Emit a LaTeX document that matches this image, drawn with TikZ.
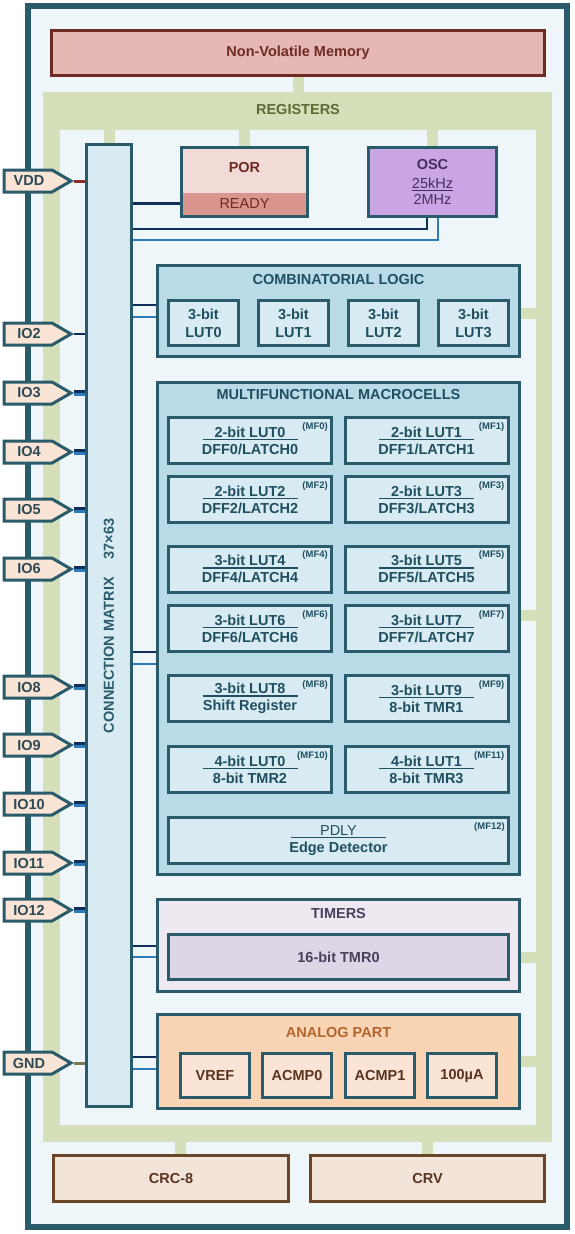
\documentclass[tikz,border=0pt]{standalone}
\usepackage{fontspec}
\setmainfont{Liberation Sans}
\usepackage{xcolor}
\usepackage{tikz}
\usetikzlibrary{positioning,shapes.symbols,calc}

\definecolor{edge}{HTML}{2A5B6A}
\definecolor{bgc}{HTML}{EFF6F9}
\definecolor{regc}{HTML}{D5DFB9}
\definecolor{regtxt}{HTML}{5B6B33}
\definecolor{nvmfill}{HTML}{E6B8B3}
\definecolor{nvmedge}{HTML}{6E2B23}
\definecolor{porfill}{HTML}{F2DBD7}
\definecolor{readyfill}{HTML}{D9958E}
\definecolor{oscfill}{HTML}{C9A6E3}
\definecolor{osctxt}{HTML}{4A2C60}
\definecolor{cmfill}{HTML}{D8EAF2}
\definecolor{cmtxt}{HTML}{2B5C6D}
\definecolor{blufill}{HTML}{B9DBE7}
\definecolor{cellc}{HTML}{D8EBF2}
\definecolor{tealtxt}{HTML}{1F4F60}
\definecolor{tmrfill}{HTML}{EEE9F1}
\definecolor{tmrcell}{HTML}{DCD6E6}
\definecolor{tmrtxt}{HTML}{4C3F5C}
\definecolor{anafill}{HTML}{F9D5B6}
\definecolor{anacell}{HTML}{F9E4D5}
\definecolor{anattl}{HTML}{B4652C}
\definecolor{brtxt}{HTML}{5B3420}
\definecolor{crcfill}{HTML}{F3E4D9}
\definecolor{crcedge}{HTML}{6B4527}
\definecolor{pinc}{HTML}{F9E4D5}
\definecolor{pintc}{HTML}{2D4955}
\definecolor{busdark}{HTML}{0F2E5A}
\definecolor{buslight}{HTML}{2B7CB9}
\definecolor{vddc}{HTML}{8B2D24}
\definecolor{gndc}{HTML}{7B7A55}

% underlined first line of a macrocell
\newcommand{\ulhead}[1]{\vtop{\hbox to 95pt{\hss#1\hss}\kern1.5pt\hrule height 1.3pt}}

\begin{document}
\begin{tikzpicture}[
  x=1pt, y=-1pt,
  big/.style={font=\bfseries\fontsize{14.5}{17}\selectfont},
  chip/.style={draw=edge, fill=bgc, line width=6pt, inner sep=0pt},
  blk/.style={big, draw=edge, line width=3pt, inner sep=0pt, align=center},
  cell/.style={blk, fill=cellc, text=tealtxt, minimum width=163pt, minimum height=46pt, label={[mftag]north east:#1}},
  lut/.style={blk, fill=cellc, text=tealtxt, minimum width=70pt, minimum height=45pt, font=\bfseries\fontsize{14.5}{18}\selectfont},
  ana/.style={blk, fill=anacell, text=brtxt, minimum width=69pt, minimum height=44pt},
  ttl/.style={big, inner sep=0pt},
  mftag/.style={font=\bfseries\fontsize{9.5}{11}\selectfont, text=tealtxt, inner sep=0pt, anchor=north east, xshift=-5pt, yshift=-6pt},
  iopin/.style={signal, signal to=east, signal pointer angle=60, draw=edge, line width=3pt, fill=pinc, minimum width=67pt, minimum height=22pt, anchor=east, inner sep=0pt, label={[pintxt]center:#1}},
  pintxt/.style={big, text=pintc, xshift=1pt},
  busdk/.style={draw=busdark, line width=2.8pt},
  buslt/.style={draw=buslight, line width=2.8pt},
  regln/.style={draw=regc, line width=11pt}
]
\useasboundingbox (0,0) rectangle (574,1234);

% chip outline and register ring
\node[chip, minimum width=539pt, minimum height=1221pt] (chip) at (297,616.5) {};
\node[fill=regc, inner sep=0pt, minimum width=509pt, minimum height=1050pt] (regs) at (297.5,617) {};
\node[fill=bgc, inner sep=0pt, minimum width=476pt, minimum height=995pt] (regsin) at (298,627.5) {};
\node[ttl, text=regtxt] (regttl) at (298,110) {REGISTERS};

\node[blk, fill=nvmfill, draw=nvmedge, text=nvmedge, minimum width=493pt, minimum height=45pt] (nvm) at (298,53) {Non-Volatile Memory};

% connection matrix
\node[blk, fill=cmfill, minimum width=45pt, minimum height=962pt] (cm) at (109,625.5) {};
\node[big, text=cmtxt, rotate=90, inner sep=0pt] (cmname) at (109,655) {CONNECTION MATRIX};
\node[big, text=cmtxt, rotate=90, inner sep=0pt] (cmsize) at (109,539) {37×63};

% POR and OSC
\node[blk, fill=porfill, minimum width=126pt, minimum height=69pt] (por) at (244.5,182) {};
\node[fill=readyfill, text=nvmedge, font=\fontsize{14.5}{17}\selectfont, inner sep=0pt, minimum width=123pt, minimum height=22pt, anchor=south] (ready) at ([yshift=3pt]por.south) {READY};
\node[ttl, text=nvmedge] (portxt) at ([yshift=-22pt]por.north) {POR};
\node[blk, fill=oscfill, text=osctxt, font=\fontsize{14.5}{16}\selectfont, minimum width=128pt, minimum height=69pt] (osc) at (432.5,182) {\textbf{OSC}\\[3pt]\underline{25kHz}\\2MHz};

% combinatorial logic
\node[blk, fill=blufill, minimum width=362pt, minimum height=91pt] (comb) at (338.5,311) {};
\node[ttl, text=tealtxt] (combttl) at ([yshift=-16pt]comb.north) {COMBINATORIAL LOGIC};
\node[lut] (lut0) at (203.5,323) {3-bit\\LUT0};
\node[lut] (lut1) at (293.5,323) {3-bit\\LUT1};
\node[lut] (lut2) at (383.5,323) {3-bit\\LUT2};
\node[lut] (lut3) at (473.5,323) {3-bit\\LUT3};

% multifunctional macrocells
\node[blk, fill=blufill, minimum width=362pt, minimum height=492pt] (mf) at (338.5,628.5) {};
\node[ttl, text=tealtxt] (mfttl) at ([yshift=-14pt]mf.north) {MULTIFUNCTIONAL MACROCELLS};
\node[cell=(MF0)] (mf0) at (250,440.5) {\ulhead{2-bit LUT0}\\DFF0/LATCH0};
\node[cell=(MF1)] (mf1) at (426.5,440.5) {\ulhead{2-bit LUT1}\\DFF1/LATCH1};
\node[cell=(MF2)] (mf2) at (250,499.5) {\ulhead{2-bit LUT2}\\DFF2/LATCH2};
\node[cell=(MF3)] (mf3) at (426.5,499.5) {\ulhead{2-bit LUT3}\\DFF3/LATCH3};
\node[cell=(MF4)] (mf4) at (250,569) {\ulhead{3-bit LUT4}\\DFF4/LATCH4};
\node[cell=(MF5)] (mf5) at (426.5,569) {\ulhead{3-bit LUT5}\\DFF5/LATCH5};
\node[cell=(MF6)] (mf6) at (250,628.5) {\ulhead{3-bit LUT6}\\DFF6/LATCH6};
\node[cell=(MF7)] (mf7) at (426.5,628.5) {\ulhead{3-bit LUT7}\\DFF7/LATCH7};
\node[cell=(MF8)] (mf8) at (250,698.5) {\ulhead{3-bit LUT8}\\Shift Register};
\node[cell=(MF9)] (mf9) at (426.5,698.5) {\ulhead{3-bit LUT9}\\8-bit TMR1};
\node[cell=(MF10)] (mf10) at (250,769.5) {\ulhead{4-bit LUT0}\\8-bit TMR2};
\node[cell=(MF11)] (mf11) at (426.5,769.5) {\ulhead{4-bit LUT1}\\8-bit TMR3};
\node[cell=(MF12), minimum width=340pt] (mf12) at (338.5,840.5) {\ulhead{\mdseries PDLY}\\Edge Detector};

% timers
\node[blk, fill=tmrfill, minimum width=362pt, minimum height=92pt] (timers) at (338.5,945.5) {};
\node[ttl, text=tmrtxt] (tmrttl) at ([yshift=-15pt]timers.north) {TIMERS};
\node[blk, fill=tmrcell, text=tmrtxt, minimum width=340pt, minimum height=45pt] (tmr0) at (338.5,957) {16-bit TMR0};

% analog part
\node[blk, fill=anafill, minimum width=362pt, minimum height=94pt] (analog) at (338.5,1061.5) {};
\node[ttl, text=anattl] (anattl) at ([yshift=-19pt]analog.north) {ANALOG PART};
\node[ana] (vref) at (215,1075.5) {VREF};
\node[ana] (acmp0) at (297,1075.5) {ACMP0};
\node[ana] (acmp1) at (380,1075.5) {ACMP1};
\node[ana] (iref) at (462,1075.5) {100µA};

% crc / crv
\node[blk, fill=crcfill, draw=crcedge, text=brtxt, minimum width=235pt, minimum height=46pt] (crc) at (171,1178.5) {CRC-8};
\node[blk, fill=crcfill, draw=crcedge, text=brtxt, minimum width=234pt, minimum height=46pt] (crv) at (427.5,1178.5) {CRV};

% pins
\node[iopin=VDD] (vdd) at (74,181) {};
\node[iopin=IO2] (io2) at (74,334) {};
\node[iopin=IO3] (io3) at (74,393) {};
\node[iopin=IO4] (io4) at (74,452) {};
\node[iopin=IO5] (io5) at (74,510) {};
\node[iopin=IO6] (io6) at (74,569) {};
\node[iopin=IO8] (io8) at (74,687) {};
\node[iopin=IO9] (io9) at (74,745) {};
\node[iopin=IO10] (io10) at (74,804) {};
\node[iopin=IO11] (io11) at (74,863) {};
\node[iopin=IO12] (io12) at (74,910) {};
\node[iopin=GND] (gnd) at (74,1063) {};

% register taps
\draw[regln] (nvm.south) -- (nvm.south |- regs.north);
\draw[regln] (cm.north) -- (cm.north |- regsin.north);
\draw[regln] (por.north) -- (por.north |- regsin.north);
\draw[regln] (osc.north) -- (osc.north |- regsin.north);
\draw[regln] ([yshift=-2pt]comb.east) -- ([yshift=-2pt]comb.east -| regsin.east);
\draw[regln] ([yshift=13.5pt]mf.east) -- ([yshift=13.5pt]mf.east -| regsin.east);
\draw[regln] ([yshift=-11.5pt]timers.east) -- ([yshift=-11.5pt]timers.east -| regsin.east);
\draw[regln] (analog.east) -- (analog.east -| regsin.east);
\draw[regln] ([xshift=9pt]crc.north) -- ([xshift=9pt]crc.north |- regs.south);
\draw[regln] (crv.north) -- (crv.north |- regs.south);

% pin wires
\draw[draw=vddc, line width=3pt] (vdd.east) -- (vdd.east -| cm.west);
\draw[draw=gndc, line width=3pt] (gnd.east) -- (gnd.east -| cm.west);
\draw[busdk] (io2.east) -- (io2.east -| cm.west);
\draw[busdk] ([yshift=1.4pt]io3.east) -- ([yshift=1.4pt]io3.east -| cm.west);
\draw[buslt] ([yshift=-1.4pt]io3.east) -- ([yshift=-1.4pt]io3.east -| cm.west);
\draw[busdk] ([yshift=1.4pt]io4.east) -- ([yshift=1.4pt]io4.east -| cm.west);
\draw[buslt] ([yshift=-1.4pt]io4.east) -- ([yshift=-1.4pt]io4.east -| cm.west);
\draw[busdk] ([yshift=1.4pt]io5.east) -- ([yshift=1.4pt]io5.east -| cm.west);
\draw[buslt] ([yshift=-1.4pt]io5.east) -- ([yshift=-1.4pt]io5.east -| cm.west);
\draw[busdk] ([yshift=1.4pt]io6.east) -- ([yshift=1.4pt]io6.east -| cm.west);
\draw[buslt] ([yshift=-1.4pt]io6.east) -- ([yshift=-1.4pt]io6.east -| cm.west);
\draw[busdk] ([yshift=1.4pt]io8.east) -- ([yshift=1.4pt]io8.east -| cm.west);
\draw[buslt] ([yshift=-1.4pt]io8.east) -- ([yshift=-1.4pt]io8.east -| cm.west);
\draw[busdk] ([yshift=1.4pt]io9.east) -- ([yshift=1.4pt]io9.east -| cm.west);
\draw[buslt] ([yshift=-1.4pt]io9.east) -- ([yshift=-1.4pt]io9.east -| cm.west);
\draw[busdk] ([yshift=1.4pt]io10.east) -- ([yshift=1.4pt]io10.east -| cm.west);
\draw[buslt] ([yshift=-1.4pt]io10.east) -- ([yshift=-1.4pt]io10.east -| cm.west);
\draw[busdk] ([yshift=1.4pt]io11.east) -- ([yshift=1.4pt]io11.east -| cm.west);
\draw[buslt] ([yshift=-1.4pt]io11.east) -- ([yshift=-1.4pt]io11.east -| cm.west);
\draw[busdk] ([yshift=1.4pt]io12.east) -- ([yshift=1.4pt]io12.east -| cm.west);
\draw[buslt] ([yshift=-1.4pt]io12.east) -- ([yshift=-1.4pt]io12.east -| cm.west);

% matrix buses
\draw[busdk] (ready.west -| por.west) -- (ready.west -| cm.east);
\draw[busdk] ([xshift=-5.5pt]osc.south) -- ++(0,11) coordinate (oscdk) -- (oscdk -| cm.east);
\draw[buslt] ([xshift=5.5pt]osc.south) -- ++(0,22) coordinate (osclt) -- (osclt -| cm.east);
\draw[busdk] ([yshift=6pt]comb.west) -- ([yshift=6pt]comb.west -| cm.east);
\draw[buslt] ([yshift=-6pt]comb.west) -- ([yshift=-6pt]comb.west -| cm.east);
\draw[busdk] ([yshift=-23.5pt]mf.west) -- ([yshift=-23.5pt]mf.west -| cm.east);
\draw[buslt] ([yshift=-35.5pt]mf.west) -- ([yshift=-35.5pt]mf.west -| cm.east);
\draw[busdk] ([yshift=-0.5pt]timers.west) -- ([yshift=-0.5pt]timers.west -| cm.east);
\draw[buslt] ([yshift=-11.5pt]timers.west) -- ([yshift=-11.5pt]timers.west -| cm.east);
\draw[busdk] ([yshift=4.5pt]analog.west) -- ([yshift=4.5pt]analog.west -| cm.east);
\draw[buslt] ([yshift=-7.5pt]analog.west) -- ([yshift=-7.5pt]analog.west -| cm.east);
\end{tikzpicture}
\end{document}
